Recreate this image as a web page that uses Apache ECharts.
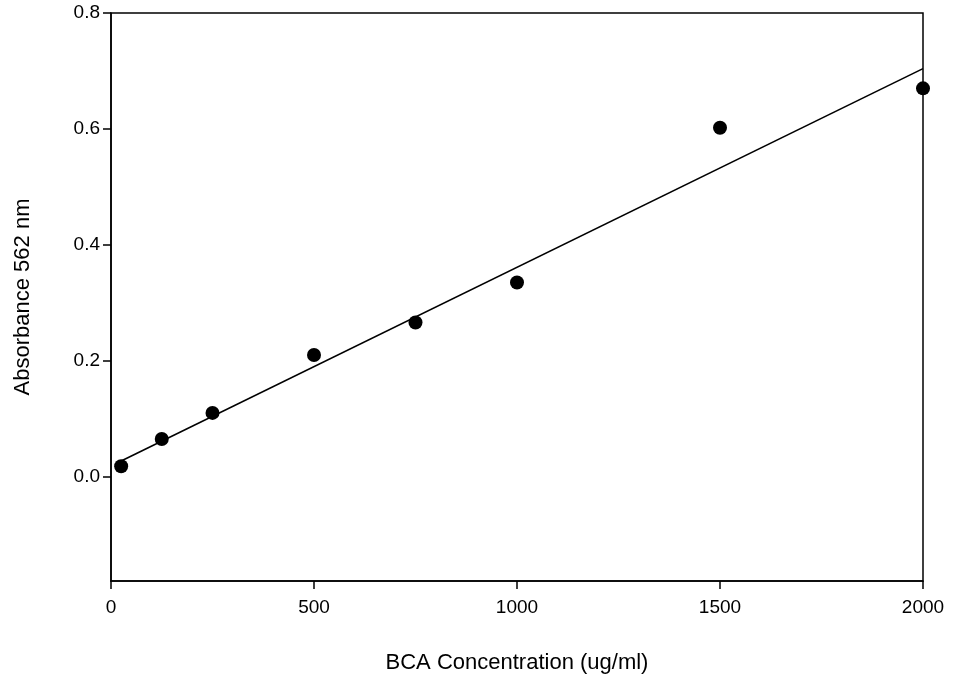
<!DOCTYPE html>
<html>
<head>
<meta charset="utf-8">
<script src="https://cdn.jsdelivr.net/npm/echarts@6/dist/echarts.min.js"></script>
<style>html,body{margin:0;padding:0;background:#fff}#c{width:955px;height:679px}</style>
</head>
<body>
<div id="c"></div>
<script>
const concentrations = [25, 125, 250, 500, 750, 1000, 1500, 2000];
const absorbance = [0.018, 0.065, 0.110, 0.210, 0.266, 0.335, 0.602, 0.670];
const fitX = [25, 2000];
const fitY = [0.027, 0.704];
const yTicks = [0, 0.2, 0.4, 0.6, 0.8];
const xTicks = [0, 500, 1000, 1500, 2000];

const chart = echarts.init(document.getElementById('c'), null, {renderer: 'canvas'});
const font = 'Liberation Sans, Arial, sans-serif';
chart.setOption({
  animation: false,
  backgroundColor: '#fff',
  grid: {left: 111, top: 13, right: 32, bottom: 98, show: true, borderColor: '#000', borderWidth: 1.5, backgroundColor: 'transparent'},
  xAxis: {
    type: 'value', min: 0, max: 2000, interval: 500,
    name: 'BCA Concentration (ug/ml)', nameLocation: 'middle', nameGap: 71,
    nameTextStyle: {fontFamily: font, fontSize: 22, color: '#000'},
    axisLine: {show: true, onZero: false, lineStyle: {color: '#000', width: 1.5}},
    axisTick: {show: true, inside: false, length: 8, lineStyle: {color: '#000', width: 1.5}, customValues: xTicks},
    axisLabel: {fontFamily: font, fontSize: 19, color: '#000', margin: 17, customValues: xTicks,
      formatter: v => String(v)},
    splitLine: {show: false}
  },
  yAxis: {
    type: 'value', min: -0.18, max: 0.8,
    name: 'Absorbance 562 nm', nameLocation: 'middle', nameGap: 77,
    nameTextStyle: {fontFamily: font, fontSize: 22, color: '#000'},
    axisLine: {show: true, onZero: false, lineStyle: {color: '#000', width: 1.5}},
    axisTick: {show: true, inside: false, length: 8, lineStyle: {color: '#000', width: 1.5}, customValues: yTicks},
    axisLabel: {fontFamily: font, fontSize: 19, color: '#000', margin: 11, customValues: yTicks,
      formatter: v => v.toFixed(1)},
    splitLine: {show: false}
  },
  series: [
    {
      type: 'line', data: fitX.map((x, i) => [x, fitY[i]]),
      symbol: 'none', lineStyle: {color: '#000', width: 1.6}, z: 2
    },
    {
      type: 'scatter', data: concentrations.map((x, i) => [x, absorbance[i]]),
      symbol: 'circle', symbolSize: 14, itemStyle: {color: '#000', opacity: 1}, z: 3
    }
  ]
});
</script>
</body>
</html>
